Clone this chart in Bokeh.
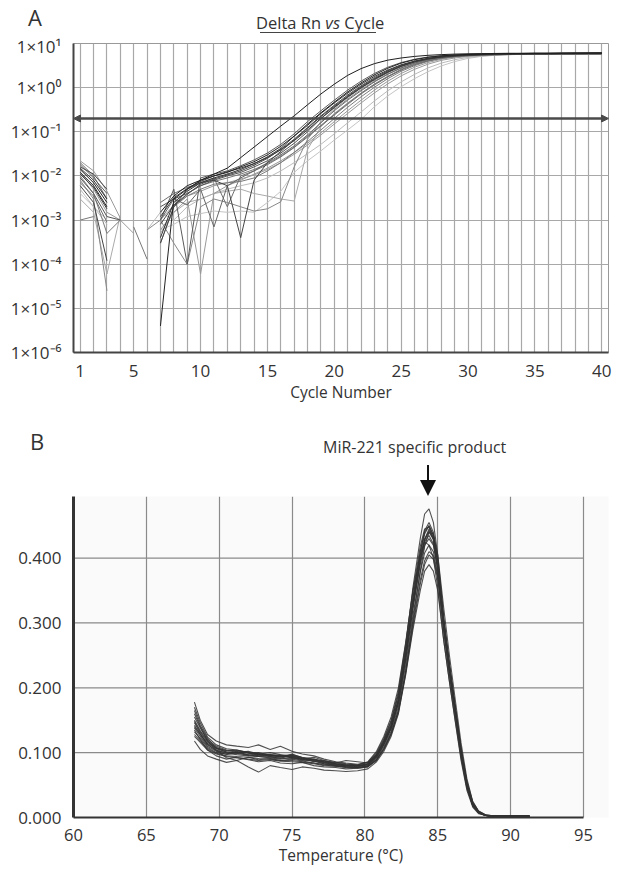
from bokeh.plotting import figure
from bokeh.layouts import column
from bokeh.models import (FixedTicker, Arrow, NormalHead, Range1d, Div,
                          CustomJSTickFormatter, PrintfTickFormatter)
from bokeh.embed import file_html
from bokeh.resources import INLINE

nan = float("nan")
FONT = "Open Sans"

# ---------------- Panel A: Delta Rn vs Cycle ----------------
cycles = list(range(1, 41))
x_ticks_a = [1, 5, 10, 15, 20, 25, 30, 35, 40]
y_ticks_a = [1e-6, 1e-5, 1e-4, 1e-3, 1e-2, 1e-1, 1e0, 1e1]
y_labels_a = ["1×10⁻⁶", "1×10⁻⁵", "1×10⁻⁴", "1×10⁻³", "1×10⁻²", "1×10⁻¹", "1×10⁰", "1×10¹"]
threshold = 0.2
title_a = ("Delta Rn", "vs", "Cycle")

amp_c01 = [1.2e-2, 6e-3, 2e-3, nan, nan, nan, 1.5e-3, 3.5e-3, 6e-3, 8e-3,
           1.1e-2, 1.5e-2, 2.6e-2, 4.5e-2, 7.8e-2, 0.135, 0.23, 0.41, 0.72, 1.2,
           1.9, 2.7, 3.5, 4.2, 4.7, 5.1, 5.4, 5.6, 5.75, 5.85,
           5.9, 5.95, 6.0, 6.0, 6.05, 6.05, 6.1, 6.1, 6.1, 6.15]
amp_c02 = [1.5e-2, 8e-3, 3e-3, nan, nan, nan, 4e-4, 2.5e-3, 4.5e-3, 7e-3,
           9e-3, 1.1e-2, 1.4e-2, 1.9e-2, 2.7e-2, 4.2e-2, 8e-2, 0.14, 0.26, 0.45,
           0.75, 1.2, 1.8, 2.5, 3.3, 4.0, 4.6, 5.0, 5.3, 5.5,
           5.65, 5.75, 5.8, 5.85, 5.9, 5.9, 5.95, 6.0, 6.0, 6.0]
amp_c03 = [9e-3, 4e-3, 1.2e-3, 1e-3, nan, nan, 2e-3, 3e-3, 4e-3, 6e-3,
           8e-3, 1e-2, 1.2e-2, 1.6e-2, 2.2e-2, 3.3e-2, 5.5e-2, 0.1, 0.2, 0.35,
           0.6, 0.98, 1.5, 2.2, 3.0, 3.8, 4.4, 4.9, 5.2, 5.4,
           5.55, 5.65, 5.7, 5.75, 5.8, 5.8, 5.85, 5.85, 5.9, 5.9]
amp_c04 = [6e-3, 2.5e-3, 1.2e-4, nan, nan, nan, 3e-4, 2e-3, 5e-3, 7e-3,
           8e-3, 6e-3, 4e-4, 8e-3, 2e-2, 3.6e-2, 6.5e-2, 0.12, 0.22, 0.38,
           0.64, 1.05, 1.6, 2.3, 3.1, 3.9, 4.5, 4.95, 5.25, 5.45,
           5.6, 5.7, 5.75, 5.8, 5.85, 5.85, 5.9, 5.9, 5.95, 5.95]
amp_c05 = [2e-2, 1e-2, 3e-3, nan, nan, nan, 1e-3, 3e-3, 2.2e-3, 5e-3,
           7e-4, 6e-3, 9e-3, 1.3e-2, 2e-2, 3e-2, 4.8e-2, 8.5e-2, 0.16, 0.3,
           0.52, 0.85, 1.35, 2.0, 2.8, 3.6, 4.3, 4.8, 5.15, 5.4,
           5.55, 5.65, 5.7, 5.75, 5.8, 5.8, 5.85, 5.85, 5.9, 5.9]
amp_c06 = [1e-3, 1.2e-3, nan, nan, 7e-4, 1.3e-4, nan, 2e-3, 4e-3, 6e-3,
           7.5e-3, 9e-3, 1.1e-2, 1.4e-2, 1.9e-2, 2.8e-2, 4.5e-2, 8e-2, 0.14, 0.25,
           0.44, 0.75, 1.2, 1.8, 2.6, 3.4, 4.1, 4.7, 5.1, 5.35,
           5.5, 5.6, 5.65, 5.7, 5.7, 5.75, 5.75, 5.8, 5.8, 5.8]
amp_c07 = [1.2e-2, 5e-3, 1.5e-3, 1e-3, 5e-4, nan, 6e-4, 1.5e-3, 3e-3, 6e-5,
           4e-3, 6e-3, 8e-3, 1.1e-2, 1.5e-2, 2.2e-2, 3.4e-2, 5.5e-2, 9.5e-2, 0.17,
           0.3, 0.52, 0.88, 1.4, 2.1, 2.9, 3.7, 4.4, 4.9, 5.25,
           5.45, 5.6, 5.7, 5.75, 5.8, 5.8, 5.85, 5.85, 5.9, 5.9]
amp_c08 = [8e-3, 3e-3, 2.5e-5, nan, nan, 6e-4, 1e-3, 3e-4, 1e-4, 2e-3,
           3e-3, 2.5e-3, 2e-3, 1.6e-3, 1.8e-3, 2.6e-3, 1.6e-2, 6.8e-2, 0.17, 0.32,
           0.55, 0.9, 1.4, 2.05, 2.8, 3.6, 4.3, 4.8, 5.15, 5.4,
           5.55, 5.6, 5.65, 5.7, 5.75, 5.75, 5.8, 5.8, 5.8, 5.85]
amp_c09 = [3e-3, 1.5e-3, 6e-5, 1.3e-3, nan, nan, 5e-4, 1.5e-3, 2.5e-3, 3e-3,
           4e-3, 4.5e-3, 5e-3, 4e-3, 3.5e-3, 3e-3, 2.7e-3, 4e-2, 0.13, 0.26,
           0.45, 0.75, 1.2, 1.8, 2.6, 3.4, 4.1, 4.7, 5.1, 5.35,
           5.5, 5.6, 5.65, 5.7, 5.7, 5.75, 5.75, 5.8, 5.8, 5.8]
amp_c10 = [1.4e-2, 7e-3, 2.5e-3, nan, nan, nan, 4e-6, 3e-3, 5e-3, 8e-3,
           1e-2, 1.2e-2, 1.6e-2, 2.1e-2, 3e-2, 4.7e-2, 8e-2, 0.15, 0.27, 0.47,
           0.8, 1.28, 1.95, 2.75, 3.6, 4.3, 4.85, 5.25, 5.5, 5.65,
           5.75, 5.85, 5.9, 5.95, 6.0, 6.0, 6.05, 6.05, 6.1, 6.1]
amp_c11 = [5e-3, 2e-3, 8e-4, nan, nan, 6e-4, 1.5e-3, 1e-3, 2e-3, 3e-3,
           4e-3, 5e-3, 6e-3, 7e-3, 9e-3, 1.3e-2, 2e-2, 3.2e-2, 5.2e-2, 9e-2,
           0.16, 0.28, 0.5, 0.85, 1.35, 2.0, 2.8, 3.6, 4.3, 4.85,
           5.2, 5.45, 5.6, 5.7, 5.75, 5.8, 5.8, 5.85, 5.85, 5.9]
amp_c12 = [1.8e-2, 9e-3, 4e-3, nan, nan, nan, 1e-3, 5e-3, 1e-4, 9e-3,
           1.1e-2, 1.3e-2, 1.7e-2, 2.3e-2, 3.3e-2, 5.2e-2, 9e-2, 0.17, 0.3, 0.52,
           0.88, 1.4, 2.1, 2.9, 3.7, 4.4, 4.95, 5.3, 5.5, 5.65,
           5.75, 5.8, 5.85, 5.9, 5.9, 5.95, 5.95, 6.0, 6.0, 6.0]
amp_c13 = [1e-2, 4e-3, 5e-4, 1e-3, nan, nan, 3e-4, 2e-3, 3.5e-3, 5e-3,
           6.5e-3, 7e-3, 7.5e-3, 9e-3, 1.3e-2, 2e-2, 3.4e-2, 6e-2, 0.11, 0.2,
           0.36, 0.62, 1.02, 1.6, 2.35, 3.15, 3.95, 4.6, 5.05, 5.35,
           5.5, 5.6, 5.65, 5.7, 5.7, 5.75, 5.75, 5.8, 5.8, 5.8]
amp_c14 = [4e-3, 2e-3, 1e-3, nan, nan, nan, 6e-4, 8e-4, 1.2e-3, 1.4e-3,
           1.6e-3, 1.5e-3, 1.6e-3, 1.5e-3, 2.5e-3, 4.5e-3, 1.2e-2, 2.2e-2, 3.7e-2, 6.5e-2,
           0.11, 0.19, 0.37, 0.65, 1.05, 1.6, 2.3, 3.1, 3.9, 4.6,
           5.1, 5.4, 5.6, 5.7, 5.75, 5.8, 5.8, 5.85, 5.85, 5.9]
amp_c15 = [1.6e-2, 1.1e-2, 5e-3, nan, nan, nan, 8e-4, 2.2e-3, 3.8e-3, 6.5e-3,
           8.5e-3, 1.05e-2, 1.3e-2, 1.75e-2, 2.5e-2, 4e-2, 6.8e-2, 0.125, 0.23, 0.4,
           0.68, 1.1, 1.68, 2.4, 3.2, 3.95, 4.55, 5.0, 5.3, 5.5,
           5.62, 5.7, 5.76, 5.8, 5.84, 5.86, 5.9, 5.92, 5.94, 5.95]
amp_c16 = [7e-3, 3.5e-3, 9e-4, nan, nan, nan, 2.5e-3, 4e-3, 5.5e-3, 7e-3,
           9e-3, 2e-3, 1e-2, 1.3e-2, 1.8e-2, 2.7e-2, 4.4e-2, 7.6e-2, 0.135, 0.24,
           0.42, 0.72, 1.15, 1.75, 2.5, 3.3, 4.05, 4.65, 5.05, 5.3,
           5.45, 5.55, 5.62, 5.66, 5.7, 5.72, 5.75, 5.77, 5.78, 5.8]
amp_c17 = [1.1e-2, 5.5e-3, 1.8e-3, nan, nan, nan, 1.2e-3, 3.2e-3, 5.2e-3, 7.5e-3,
           1e-2, 1.25e-2, 1.5e-2, 1.9e-2, 2.6e-2, 3.9e-2, 6.3e-2, 0.11, 0.2, 0.36,
           0.62, 1.0, 1.55, 2.25, 3.05, 3.85, 4.5, 4.95, 5.28, 5.5,
           5.64, 5.74, 5.8, 5.85, 5.9, 5.92, 5.95, 5.98, 6.0, 6.0]
amp_c18 = [2.2e-2, 1.3e-2, 4.5e-3, 1.1e-3, nan, nan, 1e-3, 2.2e-3, 3.5e-3, 4.5e-3,
           6e-3, 7e-3, 8.5e-3, 1.05e-2, 1.4e-2, 2e-2, 3.1e-2, 5e-2, 8.5e-2, 0.15,
           0.26, 0.45, 0.76, 1.22, 1.85, 2.6, 3.4, 4.15, 4.7, 5.1,
           5.35, 5.5, 5.6, 5.65, 5.7, 5.72, 5.75, 5.77, 5.8, 5.8]

amp_curves = [amp_c14, amp_c11, amp_c09, amp_c18, amp_c07, amp_c08, amp_c13, amp_c06,
              amp_c16, amp_c05, amp_c12, amp_c03, amp_c15, amp_c04, amp_c17, amp_c02,
              amp_c10, amp_c01]
amp_colors = ["#c4c4c4", "#bbbbbb", "#aaaaaa", "#9a9a9a", "#999999", "#888888", "#7a7a7a",
              "#777777", "#6e6e6e", "#666666", "#5a5a5a", "#555555", "#4a4a4a", "#444444",
              "#3a3a3a", "#333333", "#222222", "#1e1e1e"]

# ---------------- Panel B: melt curves ----------------
temps = [68.3, 68.7, 69.2, 69.8, 70.5, 71.2, 72.0, 72.7, 73.5, 74.2,
         75.0, 75.7, 76.5, 77.2, 78.0, 78.7, 79.5, 80.2, 80.8, 81.3,
         81.8, 82.3, 82.8, 83.3, 83.8, 84.1, 84.4, 84.7, 85.0, 85.4,
         85.8, 86.2, 86.6, 87.0, 87.4, 87.8, 88.3, 89.0, 90.0, 91.3]
x_ticks_b = [60, 65, 70, 75, 80, 85, 90, 95]
y_ticks_b = [0.0, 0.1, 0.2, 0.3, 0.4]
annotation_b = "MiR-221 specific product"

melt_m01 = [0.15, 0.134, 0.118, 0.108, 0.103, 0.104, 0.1, 0.097, 0.097, 0.094,
            0.095, 0.091, 0.089, 0.086, 0.083, 0.081, 0.08, 0.083, 0.097, 0.118,
            0.145, 0.19, 0.265, 0.355, 0.43, 0.468, 0.476, 0.455, 0.405, 0.31,
            0.235, 0.168, 0.102, 0.05, 0.02, 0.008, 0.003, 0.002, 0.002, 0.002]
melt_m02 = [0.178, 0.15, 0.128, 0.118, 0.112, 0.11, 0.108, 0.112, 0.105, 0.11,
            0.102, 0.098, 0.095, 0.09, 0.086, 0.084, 0.082, 0.085, 0.098, 0.12,
            0.148, 0.19, 0.26, 0.34, 0.41, 0.44, 0.45, 0.435, 0.395, 0.305,
            0.235, 0.17, 0.105, 0.053, 0.022, 0.009, 0.003, 0.002, 0.002, 0.002]
melt_m03 = [0.118, 0.105, 0.095, 0.09, 0.085, 0.088, 0.078, 0.07, 0.08, 0.077,
            0.074, 0.078, 0.076, 0.073, 0.072, 0.071, 0.072, 0.075, 0.086, 0.102,
            0.125, 0.16, 0.22, 0.29, 0.35, 0.38, 0.39, 0.38, 0.35, 0.275,
            0.21, 0.15, 0.092, 0.045, 0.018, 0.007, 0.003, 0.002, 0.002, 0.002]
melt_m04 = [0.14, 0.128, 0.112, 0.104, 0.099, 0.097, 0.095, 0.094, 0.092, 0.09,
            0.093, 0.089, 0.087, 0.083, 0.08, 0.078, 0.077, 0.079, 0.089, 0.106,
            0.13, 0.165, 0.225, 0.305, 0.38, 0.418, 0.44, 0.437, 0.405, 0.325,
            0.25, 0.182, 0.115, 0.06, 0.025, 0.01, 0.004, 0.002, 0.002, 0.002]
melt_m05 = [0.155, 0.138, 0.12, 0.11, 0.104, 0.103, 0.1, 0.1, 0.096, 0.095,
            0.097, 0.093, 0.09, 0.087, 0.085, 0.083, 0.081, 0.086, 0.102, 0.125,
            0.155, 0.2, 0.27, 0.35, 0.405, 0.425, 0.42, 0.4, 0.355, 0.275,
            0.21, 0.148, 0.088, 0.042, 0.016, 0.006, 0.003, 0.002, 0.002, 0.002]
melt_m06 = [0.132, 0.122, 0.108, 0.1, 0.098, 0.102, 0.096, 0.099, 0.094, 0.091,
            0.098, 0.092, 0.086, 0.088, 0.082, 0.079, 0.08, 0.081, 0.093, 0.113,
            0.138, 0.178, 0.245, 0.325, 0.395, 0.428, 0.445, 0.432, 0.392, 0.302,
            0.232, 0.167, 0.102, 0.051, 0.021, 0.008, 0.003, 0.002, 0.002, 0.002]
melt_m07 = [0.165, 0.142, 0.122, 0.107, 0.101, 0.099, 0.101, 0.095, 0.097, 0.096,
            0.092, 0.088, 0.09, 0.085, 0.081, 0.081, 0.078, 0.083, 0.096, 0.117,
            0.142, 0.183, 0.252, 0.33, 0.398, 0.425, 0.435, 0.422, 0.382, 0.296,
            0.226, 0.162, 0.098, 0.049, 0.019, 0.008, 0.003, 0.002, 0.002, 0.002]
melt_m08 = [0.125, 0.116, 0.104, 0.098, 0.094, 0.092, 0.09, 0.088, 0.089, 0.087,
            0.086, 0.085, 0.083, 0.08, 0.079, 0.077, 0.076, 0.078, 0.088, 0.105,
            0.128, 0.162, 0.222, 0.295, 0.36, 0.39, 0.405, 0.398, 0.368, 0.292,
            0.225, 0.163, 0.103, 0.054, 0.023, 0.009, 0.003, 0.002, 0.002, 0.002]
melt_m09 = [0.148, 0.132, 0.116, 0.107, 0.103, 0.101, 0.099, 0.097, 0.096, 0.093,
            0.095, 0.091, 0.089, 0.086, 0.084, 0.088, 0.086, 0.084, 0.096, 0.116,
            0.141, 0.181, 0.252, 0.333, 0.405, 0.437, 0.45, 0.436, 0.395, 0.305,
            0.234, 0.168, 0.103, 0.051, 0.02, 0.008, 0.003, 0.002, 0.002, 0.002]
melt_m10 = [0.138, 0.125, 0.11, 0.102, 0.097, 0.1, 0.097, 0.094, 0.093, 0.092,
            0.091, 0.09, 0.087, 0.083, 0.081, 0.08, 0.079, 0.082, 0.094, 0.114,
            0.139, 0.179, 0.248, 0.328, 0.398, 0.43, 0.442, 0.43, 0.39, 0.301,
            0.231, 0.166, 0.101, 0.05, 0.02, 0.008, 0.003, 0.002, 0.002, 0.002]
melt_m11 = [0.16, 0.14, 0.118, 0.104, 0.092, 0.088, 0.093, 0.089, 0.091, 0.088,
            0.09, 0.087, 0.084, 0.082, 0.08, 0.078, 0.077, 0.08, 0.092, 0.112,
            0.137, 0.176, 0.243, 0.322, 0.39, 0.42, 0.43, 0.42, 0.385, 0.3,
            0.232, 0.168, 0.104, 0.053, 0.022, 0.009, 0.003, 0.002, 0.002, 0.002]
melt_m12 = [0.142, 0.128, 0.114, 0.106, 0.101, 0.1, 0.102, 0.098, 0.095, 0.094,
            0.096, 0.092, 0.089, 0.085, 0.083, 0.081, 0.08, 0.082, 0.095, 0.115,
            0.14, 0.182, 0.255, 0.338, 0.41, 0.442, 0.455, 0.44, 0.398, 0.308,
            0.236, 0.17, 0.104, 0.052, 0.021, 0.008, 0.003, 0.002, 0.002, 0.002]
melt_m13 = [0.17, 0.146, 0.124, 0.112, 0.106, 0.104, 0.1, 0.098, 0.1, 0.097,
            0.094, 0.09, 0.093, 0.088, 0.084, 0.082, 0.081, 0.085, 0.1, 0.122,
            0.15, 0.195, 0.268, 0.35, 0.418, 0.445, 0.448, 0.428, 0.382, 0.292,
            0.222, 0.158, 0.095, 0.046, 0.018, 0.007, 0.003, 0.002, 0.002, 0.002]
melt_m14 = [0.128, 0.118, 0.106, 0.099, 0.095, 0.094, 0.093, 0.091, 0.09, 0.088,
            0.088, 0.086, 0.084, 0.081, 0.079, 0.078, 0.077, 0.079, 0.089, 0.106,
            0.129, 0.165, 0.226, 0.3, 0.366, 0.396, 0.41, 0.404, 0.372, 0.296,
            0.228, 0.166, 0.106, 0.056, 0.024, 0.01, 0.004, 0.002, 0.002, 0.002]
melt_m15 = [0.146, 0.13, 0.113, 0.103, 0.1, 0.099, 0.096, 0.095, 0.094, 0.096,
            0.093, 0.09, 0.088, 0.084, 0.082, 0.08, 0.079, 0.081, 0.094, 0.113,
            0.138, 0.178, 0.247, 0.327, 0.397, 0.428, 0.44, 0.429, 0.39, 0.302,
            0.232, 0.167, 0.102, 0.05, 0.02, 0.008, 0.003, 0.002, 0.002, 0.002]
melt_m16 = [0.135, 0.12, 0.104, 0.095, 0.09, 0.093, 0.089, 0.086, 0.088, 0.084,
            0.083, 0.085, 0.08, 0.078, 0.077, 0.075, 0.076, 0.078, 0.09, 0.109,
            0.133, 0.171, 0.235, 0.312, 0.378, 0.408, 0.42, 0.41, 0.374, 0.29,
            0.222, 0.16, 0.098, 0.048, 0.019, 0.008, 0.003, 0.002, 0.002, 0.002]
melt_curves = [melt_m01, melt_m02, melt_m03, melt_m04, melt_m05, melt_m06,
               melt_m07, melt_m08, melt_m09, melt_m10, melt_m11, melt_m12,
               melt_m13, melt_m14, melt_m15, melt_m16]

# ---------------- Header A (text above panel A) ----------------
head_a = Div(width=622, height=34, margin=0, text=(
    '<div style="position:relative;width:622px;height:34px;font-family:\'Open Sans\';color:#333;">'
    '<span style="position:absolute;left:28px;top:6px;font-size:22px;line-height:1;">A</span>'
    '<span style="position:absolute;left:256px;top:15px;font-size:16.5px;line-height:1;white-space:nowrap;">'
    f'{title_a[0]} <i>{title_a[1]}</i> {title_a[2]}</span>'
    '<div style="position:absolute;left:260px;top:32px;width:116px;height:0;'
    'border-top:1.6px solid #444;"></div></div>'))

# ---------------- Figure A ----------------
p1 = figure(width=622, height=371, x_range=Range1d(0.5, 40.5), y_range=Range1d(1e-6, 1e1),
            y_axis_type="log", output_backend="svg", toolbar_location=None,
            min_border_left=73, min_border_right=14, min_border_top=9, min_border_bottom=48)
p1.outline_line_color = "#999999"
p1.xgrid.ticker = FixedTicker(ticks=cycles)
p1.ygrid.ticker = FixedTicker(ticks=y_ticks_a)
p1.grid.grid_line_color = "#a8a8a8"
p1.grid.grid_line_width = 1.2
p1.xaxis.ticker = FixedTicker(ticks=x_ticks_a)
p1.yaxis.ticker = FixedTicker(ticks=y_ticks_a)
p1.yaxis.formatter = CustomJSTickFormatter(args=dict(labels=y_labels_a),
                                           code="return labels[Math.round(Math.log10(tick)) + 6];")
for ax in (p1.xaxis, p1.yaxis):
    ax.major_tick_line_color = None
    ax.minor_tick_line_color = None
    ax.axis_line_color = "#444444"
    ax.axis_line_width = 2
    ax.major_label_text_font = FONT
    ax.major_label_text_font_size = "17px"
    ax.major_label_text_color = "#333333"
p1.yaxis.major_label_standoff = 6
p1.xaxis.major_label_standoff = 6
p1.xaxis.axis_label = "Cycle Number"
p1.xaxis.axis_label_text_font = FONT
p1.xaxis.axis_label_text_font_size = "15.5px"
p1.xaxis.axis_label_text_font_style = "normal"
p1.xaxis.axis_label_text_color = "#333333"
p1.xaxis.axis_label_standoff = 1

for curve, col in zip(amp_curves, amp_colors):
    p1.line(cycles, curve, line_color=col, line_width=1.0)

p1.add_layout(Arrow(x_start=0.5, x_end=40.5, y_start=threshold, y_end=threshold,
                    line_color="#4a4a4a", line_width=2.5,
                    start=NormalHead(size=7, fill_color="#4a4a4a", line_color="#4a4a4a"),
                    end=NormalHead(size=7, fill_color="#4a4a4a", line_color="#4a4a4a")))

# ---------------- Header B ----------------
head_b = Div(width=622, height=91, margin=0, text=(
    '<div style="position:relative;width:622px;height:91px;font-family:\'Open Sans\';color:#333;">'
    '<span style="position:absolute;left:30px;top:25px;font-size:22px;line-height:1;">B</span>'
    '<span style="position:absolute;left:323px;top:34px;font-size:16px;line-height:1;white-space:nowrap;">'
    f'{annotation_b}</span>'
    '<div style="position:absolute;left:427px;top:60px;width:2px;height:17px;background:#111;"></div>'
    '<div style="position:absolute;left:420px;top:75px;width:0;height:0;border-left:8px solid transparent;'
    'border-right:8px solid transparent;border-top:16px solid #111;"></div></div>'))

# ---------------- Figure B ----------------
p2 = figure(width=622, height=372, x_range=Range1d(60, 96.72), y_range=Range1d(0, 0.495),
            output_backend="svg", toolbar_location=None,
            min_border_left=73, min_border_right=14, min_border_top=0, min_border_bottom=48)
p2.background_fill_color = "#fafafa"
p2.outline_line_color = None
p2.xgrid.ticker = FixedTicker(ticks=x_ticks_b)
p2.xgrid.grid_line_color = "#8a8a8a"
p2.xgrid.grid_line_width = 1.2
p2.ygrid.grid_line_color = None
p2.segment(x0=[x_ticks_b[0]] * len(y_ticks_b), x1=[x_ticks_b[-1]] * len(y_ticks_b),
           y0=y_ticks_b, y1=y_ticks_b, line_color="#8a8a8a", line_width=1.2)
p2.xaxis.ticker = FixedTicker(ticks=x_ticks_b)
p2.yaxis.ticker = FixedTicker(ticks=y_ticks_b)
p2.xaxis.bounds = (x_ticks_b[0], x_ticks_b[-1])
p2.yaxis.formatter = PrintfTickFormatter(format="%.3f")
for ax in (p2.xaxis, p2.yaxis):
    ax.major_tick_line_color = None
    ax.minor_tick_line_color = None
    ax.axis_line_color = "#333333"
    ax.major_label_text_font = FONT
    ax.major_label_text_color = "#333333"
p2.yaxis.major_label_text_font_size = "17px"
p2.xaxis.major_label_text_font_size = "16.5px"
p2.yaxis.axis_line_width = 3
p2.xaxis.axis_line_width = 2
p2.yaxis.major_label_standoff = 6
p2.xaxis.major_label_standoff = 5
p2.xaxis.axis_label = "Temperature (°C)"
p2.xaxis.axis_label_text_font = FONT
p2.xaxis.axis_label_text_font_size = "15.5px"
p2.xaxis.axis_label_text_font_style = "normal"
p2.xaxis.axis_label_text_color = "#333333"
p2.xaxis.axis_label_standoff = 0

for curve in melt_curves:
    p2.line(temps, curve, line_color="#333333", line_width=1.1, line_alpha=0.85)

layout = column(head_a, p1, head_b, p2, spacing=0)
open("out.html", "w").write(file_html(layout, INLINE))
